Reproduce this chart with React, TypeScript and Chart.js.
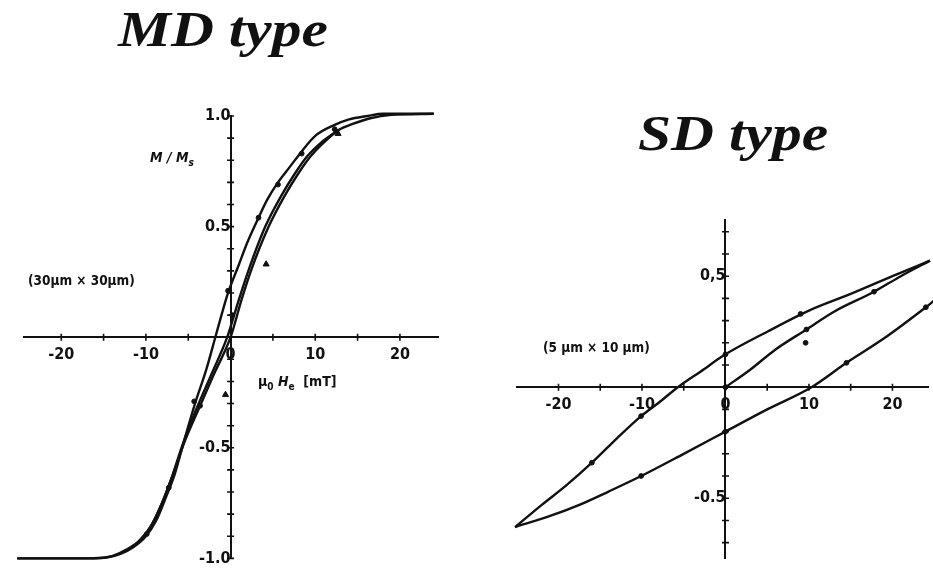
import { useEffect, useRef } from "react";
import { Chart, registerables } from "chart.js";

Chart.register(...registerables);

// ---- MD type (30 µm × 30 µm): normalised magnetisation M/Ms vs field µ0He [mT] ----
const mdDescH = [24, 18, 16.2, 14, 12.3, 10, 8.4, 7, 5.6, 4.3, 3.3, 2, 1, -0.3, -1, -1.8, -2.9, -4.2, -5.5, -6.6, -7.6, -8.8, -10, -11.5, -13, -14.5, -17, -25.2];
const mdDescM = [1.01, 1.01, 1.0, 0.985, 0.96, 0.91, 0.84, 0.77, 0.7, 0.62, 0.54, 0.43, 0.33, 0.2, 0.11, 0.0, -0.15, -0.3, -0.47, -0.62, -0.72, -0.83, -0.9, -0.95, -0.98, -0.995, -1.0, -1.0];

const mdAscH = [-25.2, -16, -14, -12.3, -10.5, -9.2, -8, -6.8, -5.4, -3.6, -2, 0, 1.3, 2.5, 4.5, 6.4, 8, 9.5, 11, 12.7, 14.5, 16.5, 19, 24];
const mdAscM = [-1.0, -1.0, -0.99, -0.96, -0.91, -0.84, -0.74, -0.62, -0.47, -0.31, -0.17, 0.0, 0.17, 0.31, 0.5, 0.64, 0.74, 0.82, 0.88, 0.935, 0.965, 0.99, 1.005, 1.01];

const mdMidH = [-11, -9.5, -8.2, -7, -5.8, -4.1, -2.4, -0.4, 0.9, 2.1, 4.1, 6, 7.6, 9.1, 10.7, 12.5];
const mdMidM = [-0.93, -0.86, -0.76, -0.64, -0.5, -0.33, -0.18, 0.0, 0.16, 0.3, 0.5, 0.64, 0.74, 0.82, 0.88, 0.93];

const mdDotH = [-9.9, -7.3, -4.3, -3.6, -0.3, 0.2, 3.3, 5.6, 8.4, 12.3];
const mdDotM = [-0.89, -0.68, -0.29, -0.31, 0.21, 0.1, 0.54, 0.69, 0.83, 0.94];

const mdEndH = [-25.2];
const mdEndM = [-1.0];

const mdTriH = [4.2, -0.6, 12.7];
const mdTriM = [0.33, -0.26, 0.92];

const mdXTicks = [-20, -15, -10, -5, 0, 5, 10, 15, 20];
const mdXLabels = ["-20", "", "-10", "", "0", "", "10", "", "20"];
const mdYTicks = [-1.0, -0.9, -0.8, -0.7, -0.6, -0.5, -0.4, -0.3, -0.2, -0.1, 0, 0.1, 0.2, 0.3, 0.4, 0.5, 0.6, 0.7, 0.8, 0.9, 1.0];
const mdYLabels = ["-1.0", "", "", "", "", "-0.5", "", "", "", "", "", "", "", "", "", "0.5", "", "", "", "", "1.0"];

// ---- SD type (5 µm × 10 µm) ----
const sdDescH = [24.5, 20, 15, 10, 5, 0, -3, -5.7, -8, -10.1, -13, -16, -19, -22, -25.2];
const sdDescM = [0.57, 0.5, 0.42, 0.345, 0.25, 0.148, 0.07, 0.0, -0.07, -0.13, -0.23, -0.34, -0.44, -0.53, -0.63];

const sdAscH = [-25.2, -21, -17.5, -14, -10.1, -5, 0, 5, 10.3, 14.5, 19, 24, 25];
const sdAscM = [-0.63, -0.58, -0.53, -0.47, -0.4, -0.3, -0.2, -0.1, 0.0, 0.11, 0.22, 0.36, 0.39];

const sdInitH = [0, 3, 6, 9.7, 13, 17.8, 21, 24.5];
const sdInitM = [0, 0.08, 0.17, 0.26, 0.34, 0.43, 0.5, 0.57];

const sdDotH = [9, -10.1, -16, 0, -10.1, 14.5, 24, 9.7, 17.8, 9.6, 0, 0];
const sdDotM = [0.33, -0.13, -0.34, 0.148, -0.4, 0.11, 0.36, 0.26, 0.43, 0.2, -0.2, 0];

const sdXTicks = [-20, -15, -10, -5, 0, 5, 10, 15, 20];
const sdXLabels = ["-20", "", "-10", "", "0", "", "10", "", "20"];
const sdYTicks = [-0.7, -0.6, -0.5, -0.4, -0.3, -0.2, -0.1, 0, 0.1, 0.2, 0.3, 0.4, 0.5, 0.6, 0.7];
const sdYLabels = ["", "", "-0.5", "", "", "", "", "", "", "", "", "", "0,5", "", ""];

const INK = "#111";
const SANS = "'DejaVu Sans Condensed', 'Liberation Sans Narrow', 'DejaVu Sans', sans-serif";
const TICK_FONT = { family: SANS, weight: "bold" as const, size: 16 };

const pts = (xs: number[], ys: number[]) => xs.map((x, i) => ({ x, y: ys[i] }));

const curve = (xs: number[], ys: number[]) => ({
  data: pts(xs, ys),
  showLine: true,
  borderColor: INK,
  borderWidth: 2.4,
  pointRadius: 0,
  cubicInterpolationMode: "monotone" as const,
  clip: false as const,
});

const markers = (xs: number[], ys: number[], style: string, r: number) => ({
  data: pts(xs, ys),
  showLine: false,
  pointStyle: style,
  pointRadius: r,
  backgroundColor: INK,
  borderColor: INK,
  borderWidth: 1,
  clip: false as const,
});

// short tick marks drawn across both axes at every scale tick
const crossTicks = {
  id: "crossTicks",
  afterDraw(chart: any) {
    const { ctx } = chart;
    const xs = chart.scales.x;
    const ys = chart.scales.y;
    const x0 = xs.getPixelForValue(0);
    const y0 = ys.getPixelForValue(0);
    ctx.save();
    ctx.strokeStyle = INK;
    ctx.lineWidth = 1.6;
    ctx.beginPath();
    ys.ticks.forEach((t: any) => {
      const py = ys.getPixelForValue(t.value);
      ctx.moveTo(x0 - 3.5, py);
      ctx.lineTo(x0 + 3.5, py);
    });
    xs.ticks.forEach((t: any) => {
      const px = xs.getPixelForValue(t.value);
      ctx.moveTo(px, y0 - 3.5);
      ctx.lineTo(px, y0 + 3.5);
    });
    ctx.stroke();
    ctx.restore();
  },
};

type AxisSpec = {
  xMin: number;
  xMax: number;
  yMin: number;
  yMax: number;
  xTicks: number[];
  xLabels: string[];
  yTicks: number[];
  yLabels: string[];
};

function buildOptions(a: AxisSpec, padding: { left: number; right: number; top: number; bottom: number }) {
  return {
    responsive: false,
    animation: false as const,
    devicePixelRatio: 1,
    layout: { padding },
    plugins: { legend: { display: false }, tooltip: { enabled: false } },
    scales: {
      x: {
        type: "linear" as const,
        min: a.xMin,
        max: a.xMax,
        position: { y: 0 },
        grid: { display: false, drawTicks: false },
        border: { display: true, color: INK, width: 2 },
        afterBuildTicks: (s: any) => {
          s.ticks = a.xTicks.map((v) => ({ value: v }));
        },
        ticks: {
          color: INK,
          font: TICK_FONT,
          padding: 8,
          maxRotation: 0,
          autoSkip: false,
          callback: (v: any) => {
            const i = a.xTicks.indexOf(Number(v));
            return i >= 0 ? a.xLabels[i] : "";
          },
        },
      },
      y: {
        type: "linear" as const,
        min: a.yMin,
        max: a.yMax,
        position: { x: 0 },
        grid: { display: false, drawTicks: false },
        border: { display: true, color: INK, width: 2 },
        afterBuildTicks: (s: any) => {
          s.ticks = a.yTicks.map((v) => ({ value: v }));
        },
        ticks: {
          color: INK,
          font: TICK_FONT,
          padding: 4,
          autoSkip: false,
          callback: (v: any) => {
            const i = a.yTicks.findIndex((t) => Math.abs(t - Number(v)) < 1e-6);
            return i >= 0 ? a.yLabels[i] : "";
          },
        },
      },
    },
  };
}

function MdChart() {
  const ref = useRef<HTMLCanvasElement>(null);
  useEffect(() => {
    const chart = new Chart(ref.current!, {
      type: "scatter",
      data: {
        datasets: [
          curve(mdDescH, mdDescM),
          curve(mdAscH, mdAscM),
          curve(mdMidH, mdMidM),
          markers(mdDotH, mdDotM, "circle", 2.4),
          markers(mdEndH, mdEndM, "circle", 4),
          markers(mdTriH, mdTriM, "triangle", 3.5),
        ] as any,
      },
      options: buildOptions(
        {
          xMin: -24.4,
          xMax: 24.5,
          yMin: -1.0,
          yMax: 1.0,
          xTicks: mdXTicks,
          xLabels: mdXLabels,
          yTicks: mdYTicks,
          yLabels: mdYLabels,
        },
        { left: 24, right: 32, top: 16, bottom: 10 }
      ) as any,
      plugins: [crossTicks],
    });
    return () => chart.destroy();
  }, []);
  return (
    <canvas
      ref={ref}
      width={470}
      height={472}
      style={{ position: "absolute", left: 0, top: 100, width: 470, height: 472 }}
    />
  );
}

function SdChart() {
  const ref = useRef<HTMLCanvasElement>(null);
  useEffect(() => {
    const chart = new Chart(ref.current!, {
      type: "scatter",
      data: {
        datasets: [
          curve(sdDescH, sdDescM),
          curve(sdAscH, sdAscM),
          curve(sdInitH, sdInitM),
          markers(sdDotH, sdDotM, "circle", 2.4),
        ] as any,
      },
      options: buildOptions(
        {
          xMin: -24.97,
          xMax: 24.26,
          yMin: -0.771,
          yMax: 0.753,
          xTicks: sdXTicks,
          xLabels: sdXLabels,
          yTicks: sdYTicks,
          yLabels: sdYLabels,
        },
        { left: 17, right: 0, top: 40, bottom: 12 }
      ) as any,
      plugins: [crossTicks],
    });
    return () => chart.destroy();
  }, []);
  return (
    <canvas
      ref={ref}
      width={433}
      height={392}
      style={{ position: "absolute", left: 500, top: 180, width: 433, height: 392 }}
    />
  );
}

const titleStyle: React.CSSProperties = {
  position: "absolute",
  fontFamily: "'Liberation Serif', 'DejaVu Serif', serif",
  fontStyle: "italic",
  fontWeight: "bold",
  fontSize: 50,
  lineHeight: "50px",
  color: INK,
  whiteSpace: "nowrap",
  transform: "scaleX(1.19)",
  transformOrigin: "left top",
};

const noteStyle: React.CSSProperties = {
  position: "absolute",
  fontFamily: SANS,
  fontWeight: "bold",
  fontSize: 13.5,
  lineHeight: "15px",
  color: INK,
  whiteSpace: "nowrap",
};

export default function App() {
  return (
    <div
      style={{
        position: "fixed",
        left: 0,
        top: 0,
        width: 933,
        height: 572,
        background: "#fff",
        overflow: "hidden",
      }}
    >
      <MdChart />
      <SdChart />
      <div style={{ ...titleStyle, left: 118, top: 4 }}>MD type</div>
      <div style={{ ...titleStyle, left: 638, top: 108 }}>SD type</div>
      <div style={{ ...noteStyle, left: 150, top: 150, fontStyle: "italic", fontSize: 14 }}>
        M / M<sub style={{ fontSize: 10 }}>s</sub>
      </div>
      <div style={{ ...noteStyle, left: 258, top: 374, fontSize: 14 }}>
        µ<sub style={{ fontSize: 10 }}>0</sub> <i>H</i>
        <sub style={{ fontSize: 10 }}>e</sub> &nbsp;[mT]
      </div>
      <div style={{ ...noteStyle, left: 28, top: 273 }}>(30µm × 30µm)</div>
      <div style={{ ...noteStyle, left: 543, top: 340 }}>(5 µm × 10 µm)</div>
    </div>
  );
}
